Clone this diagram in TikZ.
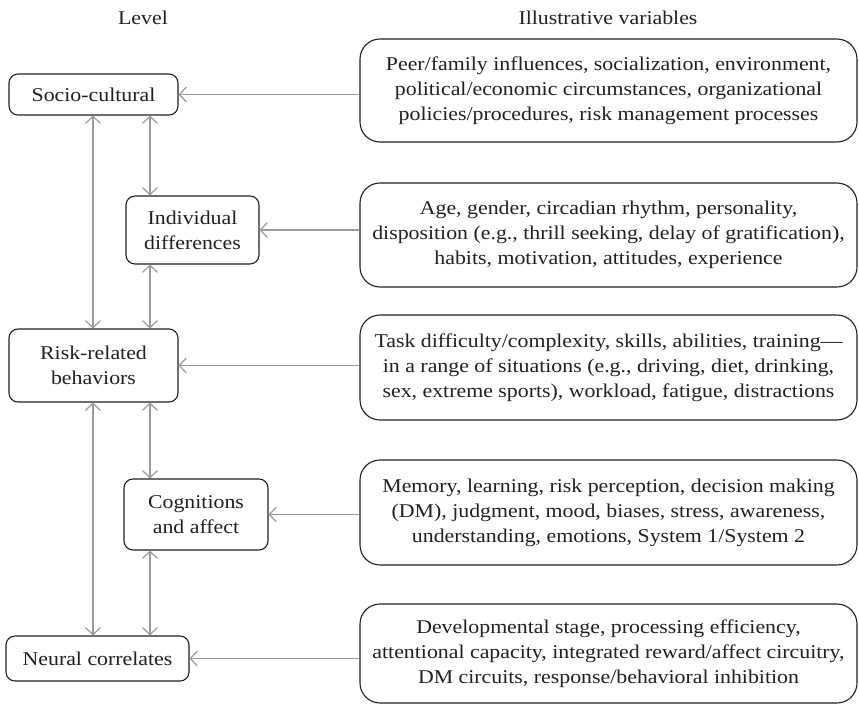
\documentclass[tikz,border=0pt]{standalone}
\usepackage{fontspec}
\setmainfont{Liberation Serif}[FakeStretch=1.12]
\usetikzlibrary{arrows.meta}
\definecolor{ink}{HTML}{231F20}
\definecolor{link}{HTML}{9B9B9B}
\begin{document}
\begin{tikzpicture}[x=1pt,y=-1pt,
  every node/.style={font=\fontsize{19.5}{25}\selectfont, text=ink},
  levelbox/.style={draw=ink, line width=1.1pt, rounded corners=9pt, align=center, inner sep=0pt},
  varbox/.style={draw=ink, line width=1.1pt, rounded corners=20pt, align=center, inner sep=0pt,
    minimum width=497pt},
  head/.style={inner sep=0pt},
  link/.style={draw=link, line width=1.2pt, {Straight Barb[length=7pt,width=15pt]}-},
  both/.style={draw=link, line width=1.2pt, {Straight Barb[length=7pt,width=15pt]}-{Straight Barb[length=7pt,width=15pt]}}
]
\useasboundingbox (0,0) rectangle (859,704);

% column headings
\node[head] (hlevel) at (143,18) {Level};
\node[head] (hvars) at (608,18) {Illustrative variables};

% levels
\node[levelbox, minimum width=169pt, minimum height=41pt] (socio) at (93.5,94.5) {Socio-cultural};
\node[levelbox, minimum width=133pt, minimum height=68pt] (indiv) at (192.5,230) {Individual\\differences};
\node[levelbox, minimum width=169pt, minimum height=73pt] (risk) at (93.5,365.5) {Risk-related\\behaviors};
\node[levelbox, minimum width=144pt, minimum height=71pt] (cog) at (196,514.5) {Cognitions\\and affect};
\node[levelbox, minimum width=183pt, minimum height=45pt] (neural) at (97.5,658.5) {Neural correlates};

% illustrative variables
\node[varbox, minimum height=103pt] (v1) at (608.5,90.5)
  {Peer/family influences, socialization, environment,\\political/economic circumstances, organizational\\policies/procedures, risk management processes};
\node[varbox, minimum height=104pt] (v2) at (608.5,235)
  {Age, gender, circadian rhythm, personality,\\disposition (e.g., thrill seeking, delay of gratification),\\habits, motivation, attitudes, experience};
\node[varbox, minimum height=105pt] (v3) at (608.5,367.5)
  {Task difficulty/complexity, skills, abilities, training---\\in a range of situations (e.g., driving, diet, drinking,\\sex, extreme sports), workload, fatigue, distractions};
\node[varbox, minimum height=105pt] (v4) at (608.5,512.5)
  {Memory, learning, risk perception, decision making\\(DM), judgment, mood, biases, stress, awareness,\\understanding, emotions, System 1/System 2};
\node[varbox, minimum height=99pt] (v5) at (608.5,653.5)
  {Developmental stage, processing efficiency,\\attentional capacity, integrated reward/affect circuitry,\\DM circuits, response/behavioral inhibition};

% columns of the vertical links
\coordinate (cl) at (93,0);
\coordinate (cr) at (150,0);

% inputs from variables to levels
\draw[link] (socio.east) -- (v1.west |- socio.east);
\draw[link] (indiv.east) -- (v2.west |- indiv.east);
\draw[link] (risk.east) -- (v3.west |- risk.east);
\draw[link] (cog.east) -- (v4.west |- cog.east);
\draw[link] (neural.east) -- (v5.west |- neural.east);

% links between levels
\draw[both] (cl |- socio.south) -- (cl |- risk.north);
\draw[both] (cr |- socio.south) -- (cr |- indiv.north);
\draw[both] (cr |- indiv.south) -- (cr |- risk.north);
\draw[both] (cl |- risk.south) -- (cl |- neural.north);
\draw[both] (cr |- risk.south) -- (cr |- cog.north);
\draw[both] (cr |- cog.south) -- (cr |- neural.north);
\end{tikzpicture}
\end{document}
